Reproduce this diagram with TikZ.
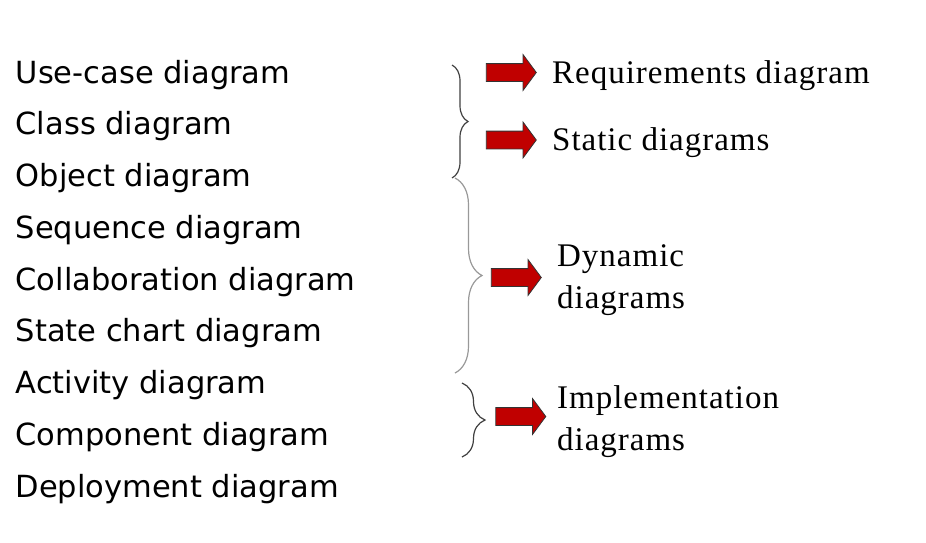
\documentclass[tikz,border=0pt]{standalone}
\usepackage{fontspec}
\newfontfamily\listfont{DejaVu Sans}
\newfontfamily\kindfont[LetterSpace=3]{Liberation Serif}
\usetikzlibrary{shapes.arrows,decorations.pathreplacing}
\definecolor{arrowred}{HTML}{C00000}
\tikzset{
  umlname/.style={anchor=base west, inner sep=0pt, font=\listfont\fontsize{30.5}{36}\selectfont},
  kindname/.style={anchor=base west, inner sep=0pt, align=left, font=\kindfont\fontsize{33}{42}\selectfont},
  redarrow/.style={single arrow, fill=arrowred, draw=black!80, line width=0.8pt, inner xsep=0pt, inner ysep=8.5pt,
    minimum height=50pt, single arrow head extend=9pt, single arrow tip angle=107},
  groupbrace/.style={decorate, decoration={brace, amplitude=#1}, line width=1.2pt}
}
\begin{document}
\begin{tikzpicture}[x=1pt,y=-1pt]
        \useasboundingbox (0,0) rectangle (926,542);
        % list of diagrams
        \foreach \i/\txt in {0/Use-case diagram, 1/Class diagram, 2/Object diagram, 3/Sequence diagram,
            4/Collaboration diagram, 5/State chart diagram, 6/Activity diagram, 7/Component diagram,
            8/Deployment diagram} {
            \node[umlname] (d\i) at (15.5,{83+51.75*\i}) {\txt};
        }
        % braces
        \coordinate (b1top) at (452,65);  \coordinate (b1bot) at (452,178);
        \coordinate (b2top) at (455,178); \coordinate (b2bot) at (455,373);
        \coordinate (b3top) at (462,383); \coordinate (b3bot) at (462,457);
        \draw[groupbrace=16pt, black!75] (b1top) -- (b1bot);
        \draw[groupbrace=27pt, gray!80] (b2top) -- (b2bot);
        \draw[groupbrace=23pt, black!75] (b3top) -- (b3bot);
        % arrows
        \node[redarrow] (a1) at (508,72.5) {};
        \node[redarrow] (a2) at (508,140) {};
        \node[redarrow] (a3) at (513,277.5) {};
        \node[redarrow] (a4) at (517.5,416.5) {};
        % kinds (base = last line)
        \node[kindname] (req) at (552,83) {Requirements diagram};
        \node[kindname] (stat) at (552,150) {Static diagrams};
        \node[kindname] (dyn) at (557,308) {Dynamic\\diagrams};
        \node[kindname] (impl) at (557,450) {Implementation\\diagrams};
    \end{tikzpicture}
\end{document}
